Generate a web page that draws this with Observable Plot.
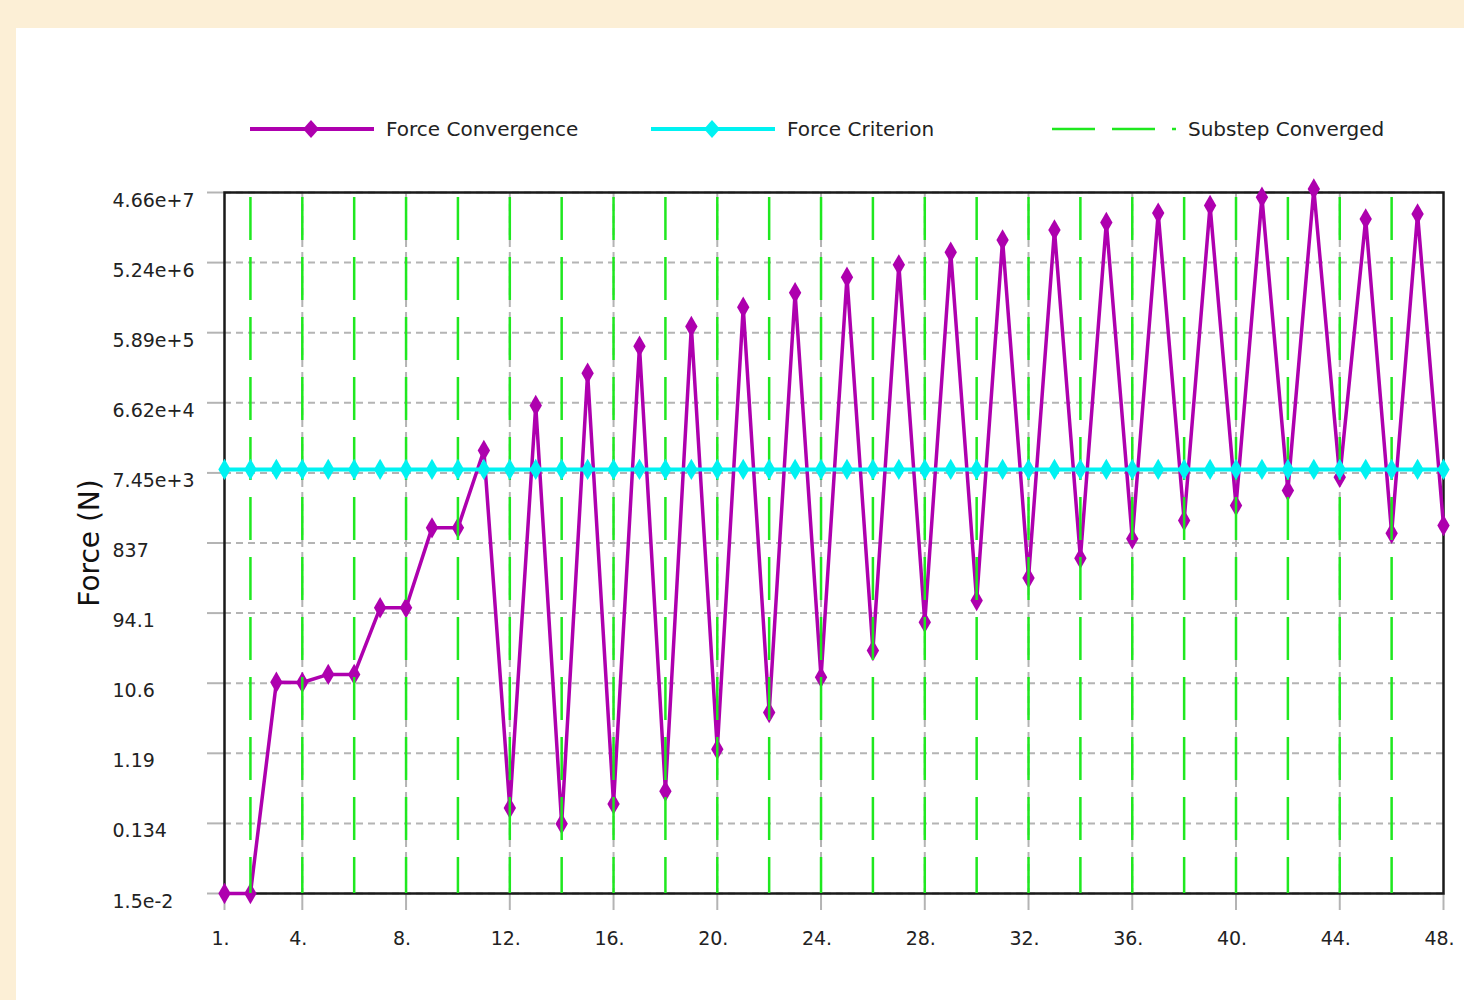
<!DOCTYPE html>
<html>
<head>
<meta charset="utf-8">
<script src="https://cdn.jsdelivr.net/npm/d3@7"></script>
<script src="https://cdn.jsdelivr.net/npm/@observablehq/plot@0.6"></script>
<style>
  html, body { margin: 0; padding: 0; background: #fcefd6; width: 1464px; height: 1000px; overflow: hidden; }
  #panel { position: absolute; left: 16px; top: 28px; right: 0; bottom: 0; background: #ffffff; }
  #chart { position: absolute; left: 0; top: 0; width: 1464px; }
  #legend { position: relative; height: 160px; width: 1464px; font-family: "DejaVu Sans", sans-serif; font-size: 20px; color: #222; }
  .item { position: absolute; top: 115px; height: 28px; display: flex; align-items: center; }
  .item svg { display: block; }
  .item span { margin-left: 12px; white-space: nowrap; }
</style>
</head>
<body>
<div id="panel"></div>
<div id="chart">
  <div id="legend"></div>
</div>
<script>
// ---- data ----
const forceConvergence = [
  0.015, 0.015, 10.9, 10.8, 13.9, 13.9, 111, 111, 1340, 1340,
  14960, 0.216, 60800, 0.132, 166000, 0.245, 386000, 0.364, 714000, 1.35,
  1.30e6, 4.24, 2.04e6, 12.7, 3.32e6, 29.3, 4.88e6, 70.8, 7.22e6, 139,
  1.06e7, 281, 1.45e7, 519, 1.83e7, 951, 2.45e7, 1690, 3.10e7, 2690,
  4.02e7, 4300, 5.2e7, 6490, 2.04e7, 1130, 2.39e7, 1440
];
const forceCriterion = [
  8300, 8300, 8300, 8300, 8300, 8300, 8300, 8300, 8300, 8300,
  8300, 8300, 8300, 8300, 8300, 8300, 8300, 8300, 8300, 8300,
  8300, 8300, 8300, 8300, 8300, 8300, 8300, 8300, 8300, 8300,
  8300, 8300, 8300, 8300, 8300, 8300, 8300, 8300, 8300, 8300,
  8300, 8300, 8300, 8300, 8300, 8300, 8300, 8300
];
const substepConverged = [2, 4, 6, 8, 10, 12, 14, 16, 18, 20, 22, 24, 26, 28, 30, 32, 34, 36, 38, 40, 42, 44, 46];
const xTicks = [1, 4, 8, 12, 16, 20, 24, 28, 32, 36, 40, 44, 48];
const xTickLabels = ["1.", "4.", "8.", "12.", "16.", "20.", "24.", "28.", "32.", "36.", "40.", "44.", "48."];
const xGrid = [4, 8, 12, 16, 20, 24, 28, 32, 36, 40, 44];
const yTicks = [1.5e-2, 0.1335, 1.187, 10.56, 93.97, 836, 7438, 66180, 588800, 5239000, 46600000];
const yTickLabels = ["1.5e-2", "0.134", "1.19", "10.6", "94.1", "837", "7.45e+3", "6.62e+4", "5.89e+5", "5.24e+6", "4.66e+7"];
const series = [
  {name: "Force Convergence", color: "#ae00ae"},
  {name: "Force Criterion", color: "#00f2f2"},
  {name: "Substep Converged", color: "#1fe81f"}
];

const conv = forceConvergence.map((v, i) => ({iter: i + 1, value: v}));
const crit = forceCriterion.map((v, i) => ({iter: i + 1, value: v}));
const yTickData = yTicks.map((v, i) => ({v, label: yTickLabels[i]}));
const xTickData = xTicks.map((v, i) => ({v, label: xTickLabels[i]}));

const purple = series[0].color, cyan = series[1].color, green = series[2].color;
const gray = "#b4b4b4";

// ---- legend ----
const legend = document.getElementById("legend");
const legendPos = [250, 651, 1052];
series.forEach((s, i) => {
  const div = document.createElement("div");
  div.className = "item";
  div.style.left = legendPos[i] + "px";
  let sw;
  if (i < 2) {
    sw = `<svg width="124" height="28"><line x1="0" y1="14" x2="124" y2="14" stroke="${s.color}" stroke-width="4"/>` +
         `<path d="M61,5 L69,14 L61,23 L53,14 Z" fill="${s.color}"/></svg>`;
  } else {
    sw = `<svg width="124" height="28"><line x1="0" y1="14" x2="124" y2="14" stroke="${s.color}" stroke-width="2.5" stroke-dasharray="43,17"/></svg>`;
  }
  div.innerHTML = sw + `<span>${s.name}</span>`;
  legend.appendChild(div);
});

// ---- chart ----
const chart = Plot.plot({
  width: 1464,
  height: 840,
  marginLeft: 224,
  marginRight: 21,
  marginTop: 32,
  marginBottom: 107,
  style: {fontFamily: "DejaVu Sans, sans-serif", fontSize: "19px", background: "transparent", color: "#222", overflow: "visible"},
  x: {type: "linear", domain: [1, 48], axis: null},
  y: {type: "log", domain: [0.015, 4.66e7], axis: null},
  marks: [
    Plot.gridY(yTicks, {stroke: gray, strokeOpacity: 1, strokeWidth: 2, strokeDasharray: "7,5"}),
    Plot.gridX(xGrid, {stroke: gray, strokeOpacity: 1, strokeWidth: 2, strokeDasharray: "7,5"}),
    Plot.axisY(yTicks, {tickSize: 17, tickFormat: () => "", stroke: gray, strokeWidth: 2, label: null}),
    Plot.axisX(xTicks, {tickSize: 17, tickFormat: () => "", stroke: gray, strokeWidth: 2, label: null}),
    Plot.text(yTickData, {y: "v", text: "label", frameAnchor: "left", dx: -112, dy: 8, textAnchor: "start", fill: "#222"}),
    Plot.text(xTickData, {x: "v", text: "label", frameAnchor: "bottom", dy: 51, dx: -4, fill: "#222"}),
    Plot.text(["Force (N)"], {text: d => d, frameAnchor: "left", dx: -134, rotate: -90, textAnchor: "middle", fontSize: 28, fill: "#111"}),
    Plot.frame({stroke: "#1a1a1a", strokeWidth: 2.5}),
    Plot.line(conv, {x: "iter", y: "value", stroke: purple, strokeWidth: 3.5}),
    Plot.dot(conv, {x: "iter", y: "value", symbol: "diamond", r: 6.5, fill: purple}),
    Plot.ruleX(substepConverged, {x: d => d, stroke: green, strokeWidth: 2.5, strokeDasharray: "43,17", strokeDashoffset: -5}),
    Plot.line(crit, {x: "iter", y: "value", stroke: cyan, strokeWidth: 4}),
    Plot.dot(crit, {x: "iter", y: "value", symbol: "diamond", r: 6.5, fill: cyan})
  ]
});
document.getElementById("chart").appendChild(chart);
</script>
</body>
</html>
